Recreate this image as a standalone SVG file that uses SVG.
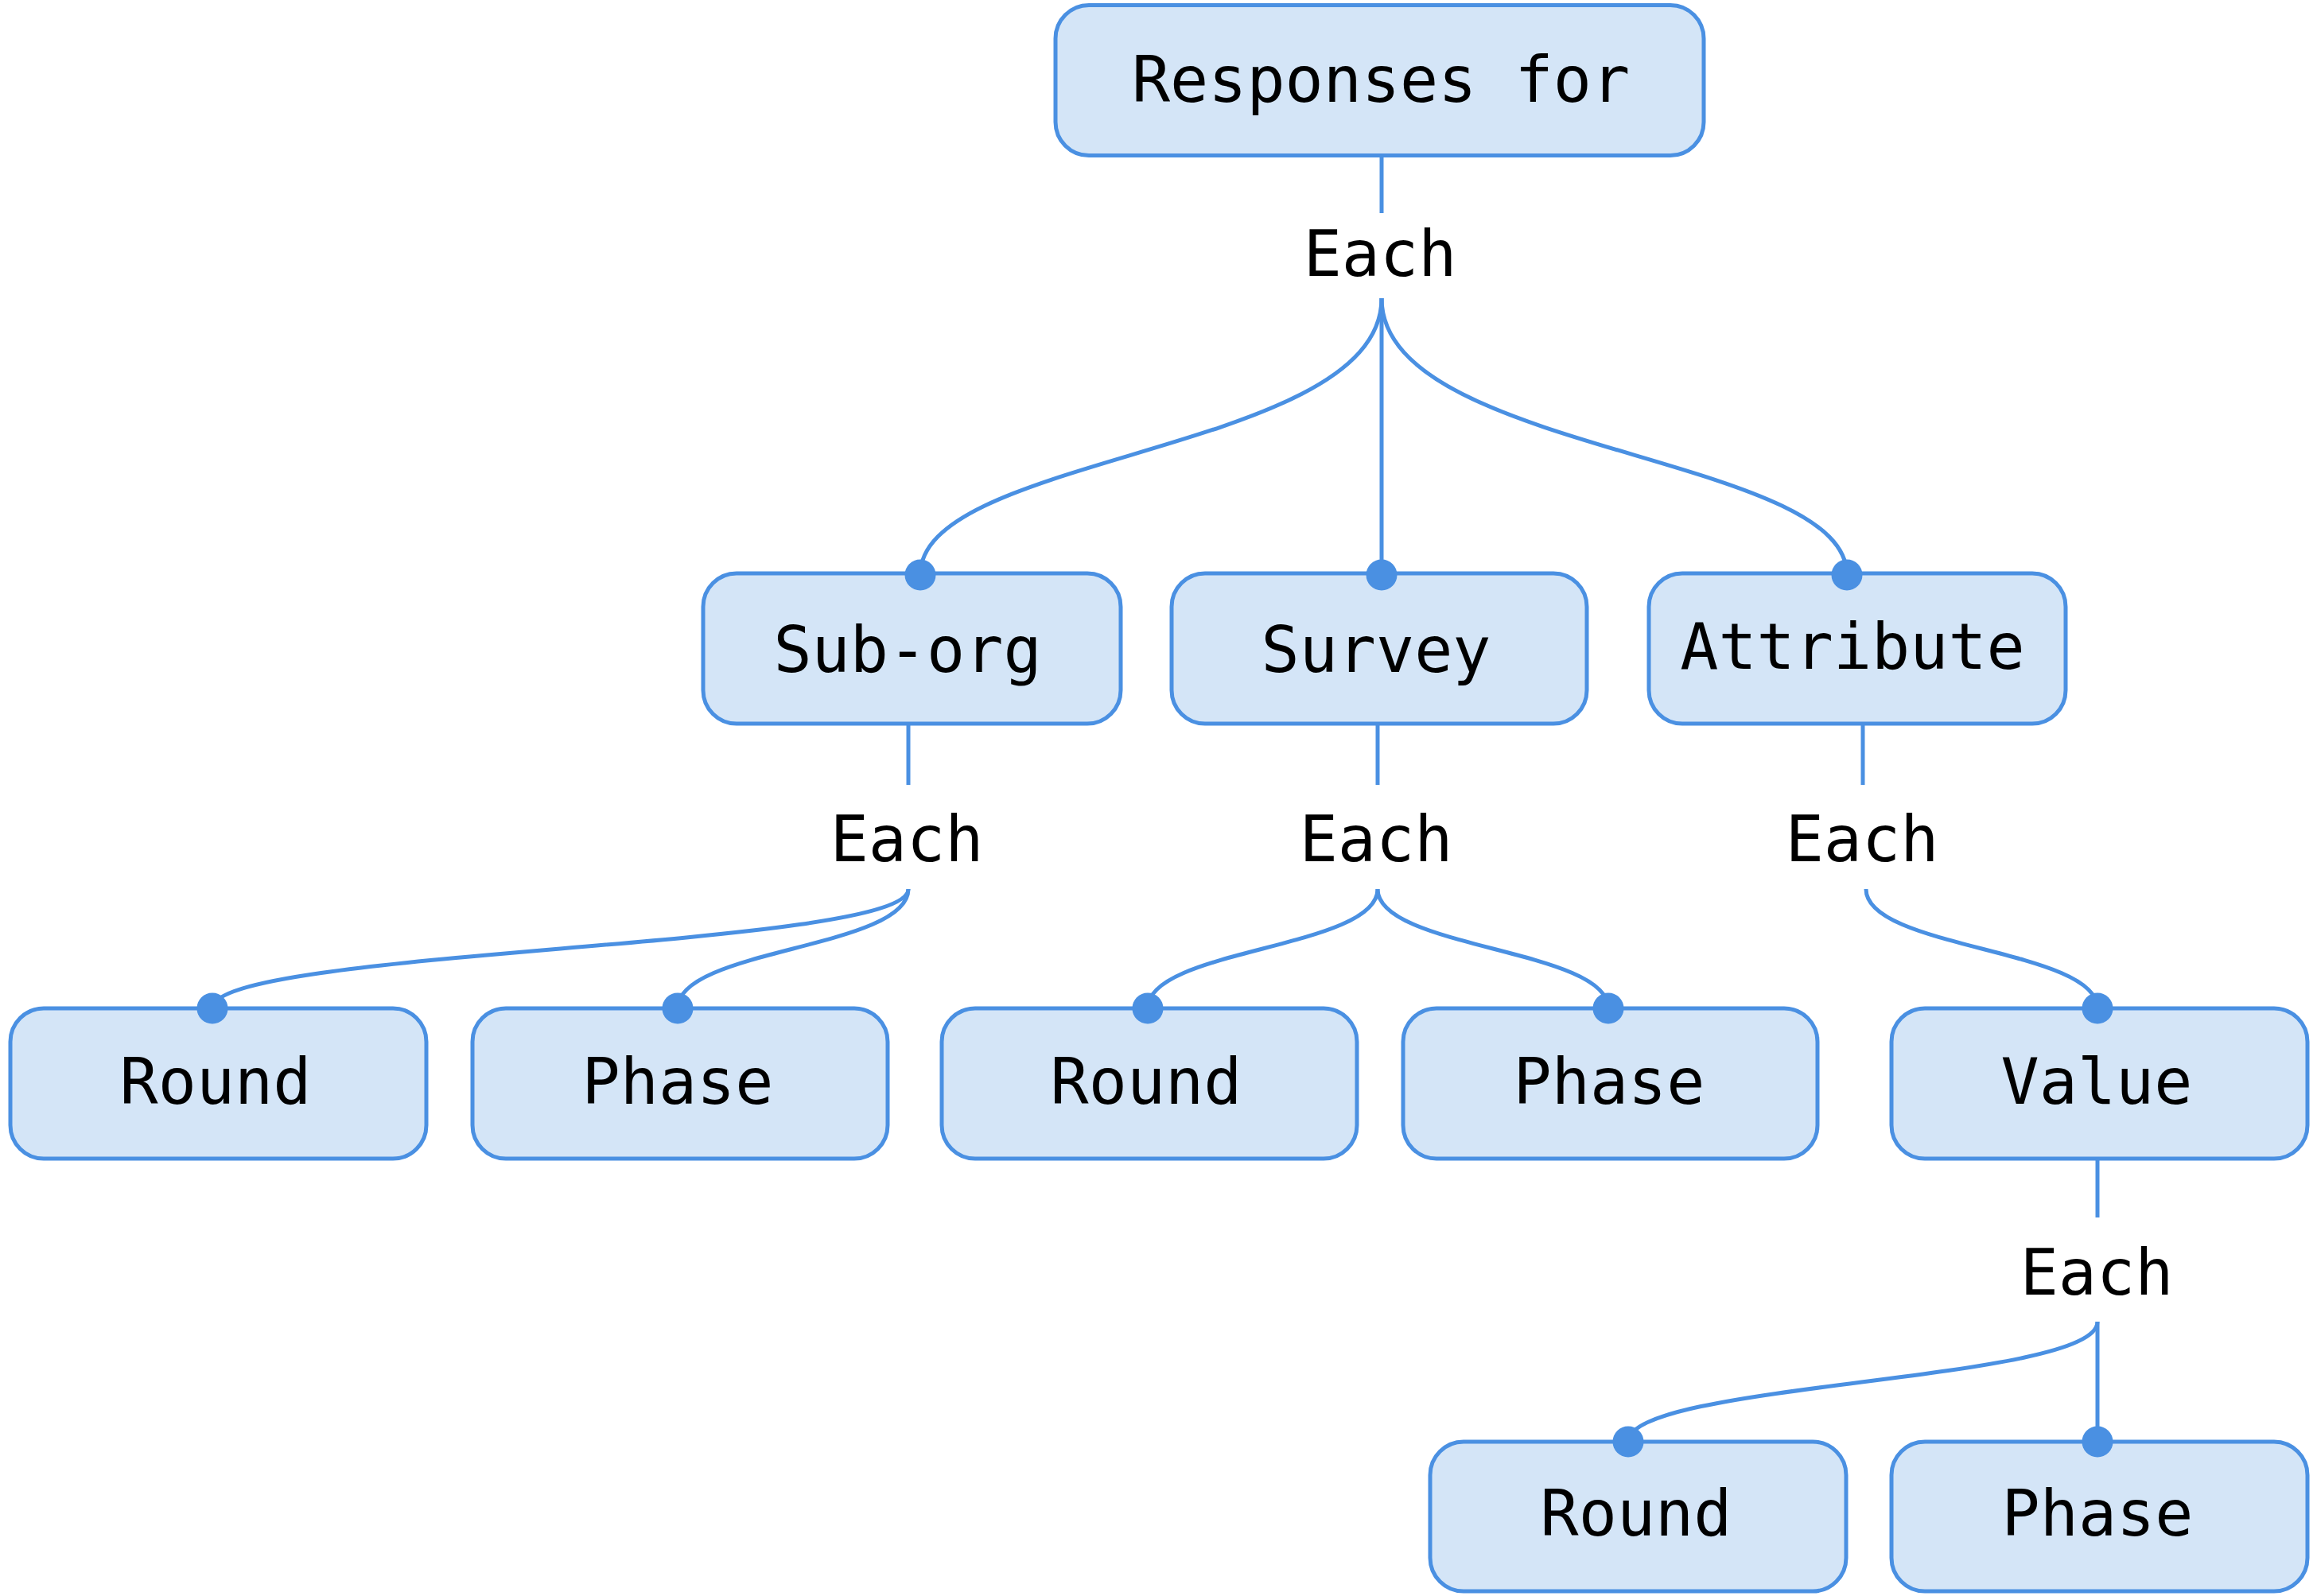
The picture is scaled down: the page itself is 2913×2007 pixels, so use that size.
<svg xmlns="http://www.w3.org/2000/svg" width="2913" height="2007" viewBox="0 0 2913 2007">
<style>
  .box { fill: #d4e5f7; stroke: #4a90e2; stroke-width: 5; }
  .lbl { font-family: "DejaVu Sans Mono", "Liberation Mono", monospace; font-size: 80px; fill: #000; text-anchor: middle; }
  .edge { fill: none; stroke: #4a90e2; stroke-width: 5; }
  .dot { fill: #4a90e2; }
</style>
<rect width="2913" height="2007" fill="#ffffff"/>

<g id="connectors">
  <!-- root -->
  <path class="edge" d="M1737 195 V268"/>
  <text class="lbl" x="1735" y="347">Each</text>
  <path class="edge" d="M1737 375 C1737 570 1157 570 1157 723"/>
  <path class="edge" d="M1737 375 V723"/>
  <path class="edge" d="M1737 375 C1737 570 2322 570 2322 723"/>
  <!-- sub-org -->
  <path class="edge" d="M1142 910 V987"/>
  <text class="lbl" x="1140" y="1083">Each</text>
  <path class="edge" d="M1142 1118 C1142 1193 267 1193 267 1268"/>
  <path class="edge" d="M1142 1118 C1142 1193 852 1193 852 1268"/>
  <!-- survey -->
  <path class="edge" d="M1732 910 V987"/>
  <text class="lbl" x="1730" y="1083">Each</text>
  <path class="edge" d="M1732 1118 C1732 1193 1443 1193 1443 1268"/>
  <path class="edge" d="M1732 1118 C1732 1193 2022 1193 2022 1268"/>
  <!-- attribute -->
  <path class="edge" d="M2342 910 V987"/>
  <text class="lbl" x="2341" y="1083">Each</text>
  <path class="edge" d="M2346 1118 C2346 1193 2637 1193 2637 1268"/>
  <!-- value -->
  <path class="edge" d="M2637 1457 V1531"/>
  <text class="lbl" x="2636" y="1628">Each</text>
  <path class="edge" d="M2637 1662 C2637 1738 2047 1738 2047 1813"/>
  <path class="edge" d="M2637 1662 V1813"/>
</g>

<g id="n-root">
  <rect class="box" x="1327" y="6.5" width="815" height="189" rx="42" ry="42"/>
  <text class="lbl" x="1736" y="128">Responses for</text>
</g>
<g id="n-suborg">
  <rect class="box" x="884" y="721" width="525" height="189" rx="42" ry="42"/>
  <text class="lbl" x="1141" y="845">Sub-org</text>
</g>
<g id="n-survey">
  <rect class="box" x="1473" y="721" width="522" height="189" rx="42" ry="42"/>
  <text class="lbl" x="1730" y="845">Survey</text>
</g>
<g id="n-attribute">
  <rect class="box" x="2073" y="721" width="524" height="189" rx="42" ry="42"/>
  <text class="lbl" x="2329" y="841">Attribute</text>
</g>
<g id="n-round1">
  <rect class="box" x="13" y="1268" width="523" height="189" rx="42" ry="42"/>
  <text class="lbl" x="271" y="1388">Round</text>
</g>
<g id="n-phase1">
  <rect class="box" x="594" y="1268" width="522" height="189" rx="42" ry="42"/>
  <text class="lbl" x="852" y="1388">Phase</text>
</g>
<g id="n-round2">
  <rect class="box" x="1184" y="1268" width="522" height="189" rx="42" ry="42"/>
  <text class="lbl" x="1441" y="1388">Round</text>
</g>
<g id="n-phase2">
  <rect class="box" x="1764" y="1268" width="521" height="189" rx="42" ry="42"/>
  <text class="lbl" x="2023" y="1388">Phase</text>
</g>
<g id="n-value">
  <rect class="box" x="2378" y="1268" width="523" height="189" rx="42" ry="42"/>
  <text class="lbl" x="2636" y="1388">Value</text>
</g>
<g id="n-round3">
  <rect class="box" x="1798" y="1813" width="523" height="188" rx="42" ry="42"/>
  <text class="lbl" x="2057" y="1931">Round</text>
</g>
<g id="n-phase3">
  <rect class="box" x="2378" y="1813" width="523" height="188" rx="42" ry="42"/>
  <text class="lbl" x="2637" y="1931">Phase</text>
</g>

<g id="endpoints">
  <circle class="dot" cx="1157" cy="723" r="19.5"/>
  <circle class="dot" cx="1737" cy="723" r="19.5"/>
  <circle class="dot" cx="2322" cy="723" r="19.5"/>
  <circle class="dot" cx="267" cy="1268" r="19.5"/>
  <circle class="dot" cx="852" cy="1268" r="19.5"/>
  <circle class="dot" cx="1443" cy="1268" r="19.5"/>
  <circle class="dot" cx="2022" cy="1268" r="19.5"/>
  <circle class="dot" cx="2637" cy="1268" r="19.5"/>
  <circle class="dot" cx="2047" cy="1813" r="19.5"/>
  <circle class="dot" cx="2637" cy="1813" r="19.5"/>
</g>
</svg>
